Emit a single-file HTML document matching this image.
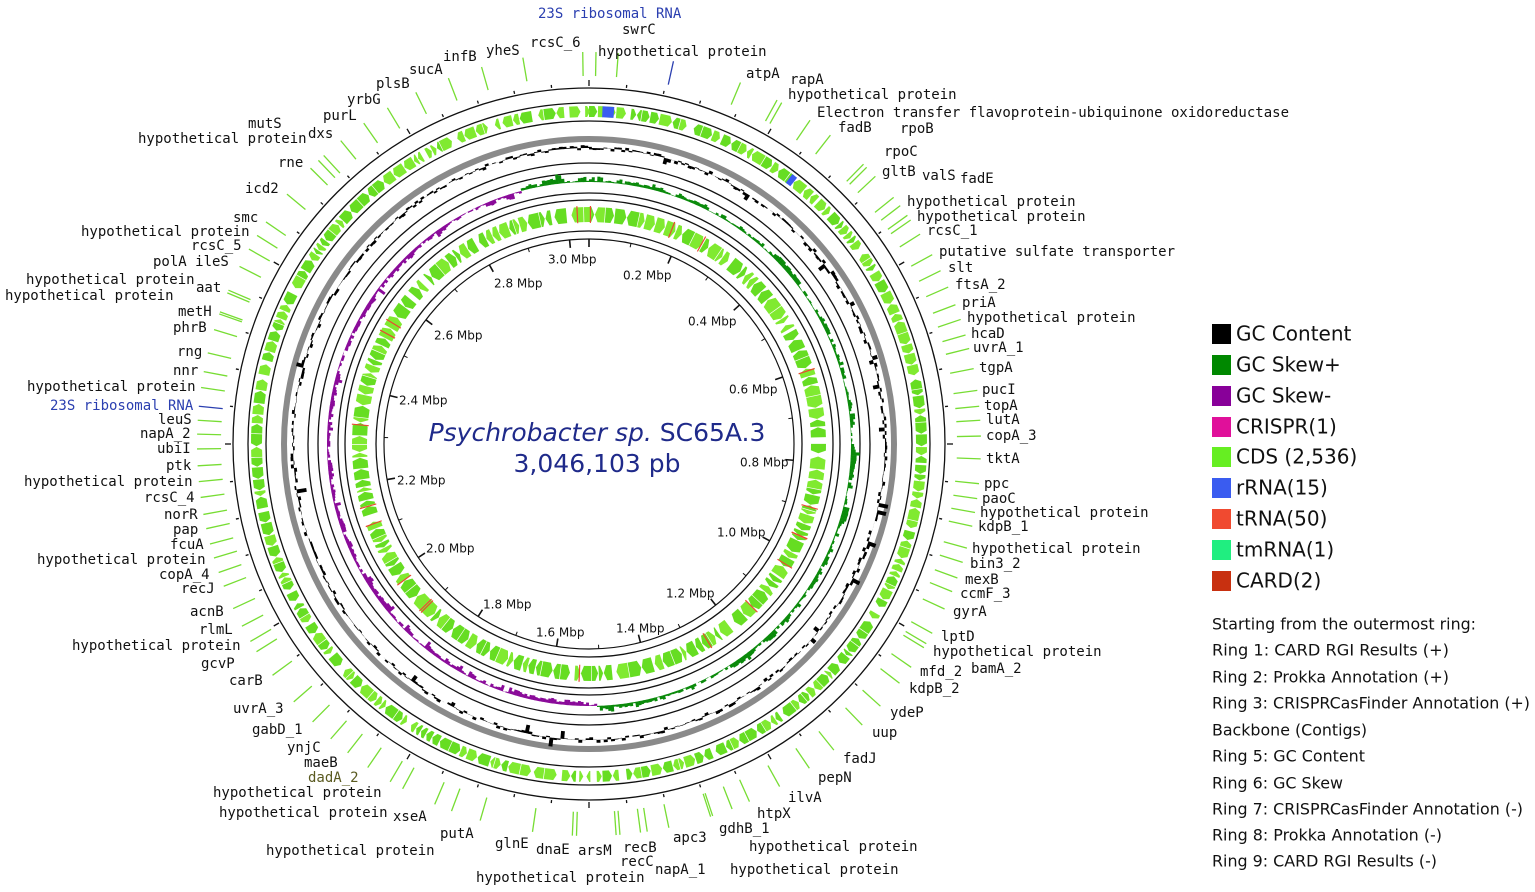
<!DOCTYPE html>
<html><head><meta charset="utf-8"><style>
html,body{margin:0;padding:0;background:#fff;}
svg{display:block}
.l{font-family:"DejaVu Sans Mono","Liberation Mono",monospace;font-size:14px;fill:#111}
.s{font-family:"DejaVu Sans","Liberation Sans",sans-serif;font-size:12px;fill:#111}
.g{font-family:"DejaVu Sans","Liberation Sans",sans-serif;font-size:20px;fill:#111}
.r{font-family:"DejaVu Sans","Liberation Sans",sans-serif;font-size:16px;fill:#111}
</style></head><body>
<svg id="sv" width="1535" height="892" viewBox="0 0 1535 892" xmlns="http://www.w3.org/2000/svg">
<g id="rings"></g>
<g id="leaders" stroke="#77dd33" stroke-width="1.3"></g>
<g id="labels" dominant-baseline="middle">
<text class="l" x="538" y="14" style="fill:#2b3fb0">23S ribosomal RNA</text>
<text class="l" x="622" y="30">swrC</text>
<text class="l" x="530" y="43">rcsC_6</text>
<text class="l" x="486" y="51">yheS</text>
<text class="l" x="443" y="57">infB</text>
<text class="l" x="409" y="70">sucA</text>
<text class="l" x="376" y="84">plsB</text>
<text class="l" x="598" y="52">hypothetical protein</text>
<text class="l" x="746" y="74">atpA</text>
<text class="l" x="790" y="80">rapA</text>
<text class="l" x="788" y="95">hypothetical protein</text>
<text class="l" x="817" y="113">Electron transfer flavoprotein-ubiquinone oxidoreductase</text>
<text class="l" x="838" y="128">fadB</text>
<text class="l" x="900" y="129">rpoB</text>
<text class="l" x="884" y="152">rpoC</text>
<text class="l" x="882" y="172">gltB</text>
<text class="l" x="922" y="176">valS</text>
<text class="l" x="960" y="179">fadE</text>
<text class="l" x="907" y="202">hypothetical protein</text>
<text class="l" x="917" y="217">hypothetical protein</text>
<text class="l" x="927" y="231">rcsC_1</text>
<text class="l" x="939" y="252">putative sulfate transporter</text>
<text class="l" x="948" y="268">slt</text>
<text class="l" x="955" y="285">ftsA_2</text>
<text class="l" x="962" y="303">priA</text>
<text class="l" x="967" y="318">hypothetical protein</text>
<text class="l" x="971" y="334">hcaD</text>
<text class="l" x="973" y="348">uvrA_1</text>
<text class="l" x="979" y="368">tgpA</text>
<text class="l" x="982" y="390">pucI</text>
<text class="l" x="984" y="406">topA</text>
<text class="l" x="986" y="420">lutA</text>
<text class="l" x="986" y="436">copA_3</text>
<text class="l" x="986" y="459">tktA</text>
<text class="l" x="984" y="484">ppc</text>
<text class="l" x="982" y="499">paoC</text>
<text class="l" x="980" y="513">hypothetical protein</text>
<text class="l" x="978" y="527">kdpB_1</text>
<text class="l" x="972" y="549">hypothetical protein</text>
<text class="l" x="970" y="564">bin3_2</text>
<text class="l" x="965" y="580">mexB</text>
<text class="l" x="960" y="594">ccmF_3</text>
<text class="l" x="953" y="612">gyrA</text>
<text class="l" x="941" y="637">lptD</text>
<text class="l" x="933" y="652">hypothetical protein</text>
<text class="l" x="920" y="672">mfd_2</text>
<text class="l" x="971" y="669">bamA_2</text>
<text class="l" x="909" y="689">kdpB_2</text>
<text class="l" x="890" y="713">ydeP</text>
<text class="l" x="872" y="733">uup</text>
<text class="l" x="843" y="759">fadJ</text>
<text class="l" x="818" y="778">pepN</text>
<text class="l" x="788" y="798">ilvA</text>
<text class="l" x="757" y="814">htpX</text>
<text class="l" x="719" y="829">gdhB_1</text>
<text class="l" x="749" y="847">hypothetical protein</text>
<text class="l" x="730" y="870">hypothetical protein</text>
<text class="l" x="673" y="838">apc3</text>
<text class="l" x="655" y="870">napA_1</text>
<text class="l" x="623" y="848">recB</text>
<text class="l" x="620" y="862">recC</text>
<text class="l" x="578" y="851">arsM</text>
<text class="l" x="536" y="850">dnaE</text>
<text class="l" x="495" y="844">glnE</text>
<text class="l" x="476" y="878">hypothetical protein</text>
<text class="l" x="266" y="851">hypothetical protein</text>
<text class="l" x="440" y="834">putA</text>
<text class="l" x="393" y="817">xseA</text>
<text class="l" x="219" y="813">hypothetical protein</text>
<text class="l" x="213" y="793">hypothetical protein</text>
<text class="l" x="308" y="778" style="fill:#5a5a20">dadA_2</text>
<text class="l" x="304" y="763">maeB</text>
<text class="l" x="287" y="748">ynjC</text>
<text class="l" x="252" y="730">gabD_1</text>
<text class="l" x="233" y="709">uvrA_3</text>
<text class="l" x="229" y="681">carB</text>
<text class="l" x="201" y="664">gcvP</text>
<text class="l" x="72" y="646">hypothetical protein</text>
<text class="l" x="199" y="630">rlmL</text>
<text class="l" x="190" y="612">acnB</text>
<text class="l" x="181" y="589">recJ</text>
<text class="l" x="159" y="575">copA_4</text>
<text class="l" x="37" y="560">hypothetical protein</text>
<text class="l" x="170" y="545">fcuA</text>
<text class="l" x="173" y="530">pap</text>
<text class="l" x="164" y="515">norR</text>
<text class="l" x="144" y="498">rcsC_4</text>
<text class="l" x="24" y="482">hypothetical protein</text>
<text class="l" x="166" y="466">ptk</text>
<text class="l" x="157" y="449">ubiI</text>
<text class="l" x="140" y="434">napA_2</text>
<text class="l" x="158" y="420">leuS</text>
<text class="l" x="50" y="406" style="fill:#2b3fb0">23S ribosomal RNA</text>
<text class="l" x="27" y="387">hypothetical protein</text>
<text class="l" x="173" y="371">nnr</text>
<text class="l" x="177" y="352">rng</text>
<text class="l" x="173" y="328">phrB</text>
<text class="l" x="178" y="312">metH</text>
<text class="l" x="196" y="288">aat</text>
<text class="l" x="5" y="296">hypothetical protein</text>
<text class="l" x="26" y="280">hypothetical protein</text>
<text class="l" x="153" y="262">polA ileS</text>
<text class="l" x="191" y="246">rcsC_5</text>
<text class="l" x="81" y="232">hypothetical protein</text>
<text class="l" x="233" y="218">smc</text>
<text class="l" x="245" y="189">icd2</text>
<text class="l" x="278" y="163">rne</text>
<text class="l" x="138" y="139">hypothetical protein</text>
<text class="l" x="248" y="124">mutS</text>
<text class="l" x="308" y="134">dxs</text>
<text class="l" x="323" y="116">purL</text>
<text class="l" x="347" y="100">yrbG</text>
</g>
<g dominant-baseline="middle">
<text class="s" x="548" y="260">3.0 Mbp</text>
<text class="s" x="623" y="276">0.2 Mbp</text>
<text class="s" x="688" y="322">0.4 Mbp</text>
<text class="s" x="729" y="390">0.6 Mbp</text>
<text class="s" x="740" y="463">0.8 Mbp</text>
<text class="s" x="717" y="533">1.0 Mbp</text>
<text class="s" x="666" y="594">1.2 Mbp</text>
<text class="s" x="616" y="629">1.4 Mbp</text>
<text class="s" x="536" y="633">1.6 Mbp</text>
<text class="s" x="483" y="605">1.8 Mbp</text>
<text class="s" x="426" y="549">2.0 Mbp</text>
<text class="s" x="397" y="481">2.2 Mbp</text>
<text class="s" x="399" y="401">2.4 Mbp</text>
<text class="s" x="434" y="336">2.6 Mbp</text>
<text class="s" x="494" y="284">2.8 Mbp</text>
</g>
<text x="597" y="441" text-anchor="middle" style="font-family:'DejaVu Sans','Liberation Sans',sans-serif;font-size:25px;fill:#1f2a8a"><tspan font-style="italic">Psychrobacter sp.</tspan> SC65A.3</text>
<text x="597" y="472" text-anchor="middle" style="font-family:'DejaVu Sans','Liberation Sans',sans-serif;font-size:25px;fill:#1f2a8a">3,046,103 pb</text>
<g dominant-baseline="middle">
<rect x="1212" y="324" width="19" height="20" fill="#000"/><text class="g" x="1236" y="335">GC Content</text>
<rect x="1212" y="355" width="19" height="20" fill="#008800"/><text class="g" x="1236" y="366">GC Skew+</text>
<rect x="1212" y="386" width="19" height="20" fill="#880099"/><text class="g" x="1236" y="397">GC Skew-</text>
<rect x="1212" y="417" width="19" height="20" fill="#e0109a"/><text class="g" x="1236" y="428">CRISPR(1)</text>
<rect x="1212" y="447" width="19" height="20" fill="#66ee22"/><text class="g" x="1236" y="458">CDS (2,536)</text>
<rect x="1212" y="478" width="19" height="20" fill="#3a5cf0"/><text class="g" x="1236" y="489">rRNA(15)</text>
<rect x="1212" y="509" width="19" height="20" fill="#f04a30"/><text class="g" x="1236" y="520">tRNA(50)</text>
<rect x="1212" y="540" width="19" height="20" fill="#20ee80"/><text class="g" x="1236" y="551">tmRNA(1)</text>
<rect x="1212" y="571" width="19" height="20" fill="#c83010"/><text class="g" x="1236" y="582">CARD(2)</text>
<text class="r" x="1212" y="625" textLength="264" lengthAdjust="spacingAndGlyphs">Starting from the outermost ring:</text>
<text class="r" x="1212" y="651" textLength="237" lengthAdjust="spacingAndGlyphs">Ring 1: CARD RGI Results (+)</text>
<text class="r" x="1212" y="678" textLength="237" lengthAdjust="spacingAndGlyphs">Ring 2: Prokka Annotation (+)</text>
<text class="r" x="1212" y="704" textLength="318" lengthAdjust="spacingAndGlyphs">Ring 3: CRISPRCasFinder Annotation (+)</text>
<text class="r" x="1212" y="731" textLength="155" lengthAdjust="spacingAndGlyphs">Backbone (Contigs)</text>
<text class="r" x="1212" y="757" textLength="153" lengthAdjust="spacingAndGlyphs">Ring 5: GC Content</text>
<text class="r" x="1212" y="784" textLength="131" lengthAdjust="spacingAndGlyphs">Ring 6: GC Skew</text>
<text class="r" x="1212" y="810" textLength="311" lengthAdjust="spacingAndGlyphs">Ring 7: CRISPRCasFinder Annotation (-)</text>
<text class="r" x="1212" y="836" textLength="230" lengthAdjust="spacingAndGlyphs">Ring 8: Prokka Annotation (-)</text>
<text class="r" x="1212" y="862" textLength="225" lengthAdjust="spacingAndGlyphs">Ring 9: CARD RGI Results (-)</text>
</g>
</svg>
<script>
(function(){
var NS="http://www.w3.org/2000/svg",cx=589,cy=444;
var R=document.getElementById('rings'),L=document.getElementById('leaders');
function el(t,a,p){var e=document.createElementNS(NS,t);for(var k in a)e.setAttribute(k,a[k]);(p||R).appendChild(e);return e;}
function pt(r,a){var t=(a-90)*Math.PI/180;return [cx+r*Math.cos(t),cy+r*Math.sin(t)];}
function P(a){return a.map(function(p){return p[0].toFixed(1)+','+p[1].toFixed(1)}).join(' ');}
var s=7;function rnd(){s=(s*9301+49297)%233280;return s/233280;}
el('circle',{cx:cx,cy:cy,r:305,fill:'none',stroke:'#8a8a8a','stroke-width':6});
function cds(r1,r2){var a=0;var k=57.3/r1;while(a<360){var w=(4+rnd()*9)*k;var g=rnd()<0.12?(2+rnd()*6)*k:0.7*k;
 var fw=rnd()<0.5;var tip=3*k;var rm=(r1+r2)/2;var pts;
 if(fw)pts=[pt(r1,a),pt(r1,a+w-tip),pt(rm,a+w),pt(r2,a+w-tip),pt(r2,a)];
 else pts=[pt(r1,a+tip),pt(r1,a+w),pt(r2,a+w),pt(r2,a+tip),pt(rm,a)];
 el('polygon',{points:P(pts),fill:rnd()<0.5?'#66dd22':'#80ea30'});a+=w+g;}}
cds(338,327);cds(237,222);
for(var i=0;i<20;i++){var a=rnd()*360;el('polygon',{points:P([pt(238,a),pt(238,a+0.3),pt(221,a+0.3),pt(221,a)]),fill:'#e84a30'});}
el('polygon',{points:P([pt(338,2.3),pt(338,4.3),pt(327,4.3),pt(327,2.3)]),fill:'#3a5cf0'});
el('polygon',{points:P([pt(338,37),pt(338,38),pt(327,38),pt(327,37)]),fill:'#3a5cf0'});
[356,341,323,281,271,251,244,213].forEach(function(r){el('circle',{cx:cx,cy:cy,r:r,fill:'none',stroke:'#111','stroke-width':1.3});});
el('circle',{cx:cx,cy:cy,r:205,fill:'none',stroke:'#111','stroke-width':1.2});
var base=296;for(var a=0;a<360;a+=0.7){var v=(rnd()-0.5)*6;if(rnd()<0.06)v=(rnd()-0.5)*20;
 el('polygon',{points:P([pt(base,a),pt(base+v,a),pt(base+v,a+0.75),pt(base,a+0.75)]),fill:'#000'});}
var sb=262,prev=2;for(var a=0;a<360;a+=0.6){var pos=(a<178||a>345);var v=prev*0.5+rnd()*3.5;if(rnd()<0.08)v+=rnd()*5;if(rnd()<0.15)v*=0.2;prev=v;
 var h=pos?Math.min(v,12):-Math.min(v,11);
 el('polygon',{points:P([pt(sb,a),pt(sb+h,a),pt(sb+h,a+0.65),pt(sb,a+0.65)]),fill:pos?'#0a8a0a':'#8a0a99'});}
for(var i=0;i<60;i++){var a=i*6,p1=pt(358,a),p2=pt(i%5?361:364,a);el('line',{x1:p1[0],y1:p1[1],x2:p2[0],y2:p2[1],stroke:'#111','stroke-width':1.3});}
for(var i=0;i<152;i++){var m=i*0.02/3.046*360;var big=i%10==0;var p1=pt(205,m),p2=pt(big?197:201,m);if(i%5==0||big)el('line',{x1:p1[0],y1:p1[1],x2:p2[0],y2:p2[1],stroke:'#111','stroke-width':big?1.6:1});}
var ts=document.querySelectorAll('#labels text');
ts.forEach(function(t){var b=t.getBBox();var x=b.x,y=b.y+b.height/2;
 var right=x>cx-30;var ax=right?x-2:x+b.width+2;
 var a=Math.atan2(ax-cx,-(y-cy))*180/Math.PI;var p1=pt(368,a),p2=pt(392,a);
 var ln=el('line',{x1:p1[0],y1:p1[1],x2:p2[0],y2:p2[1]},L);
 if(t.textContent.indexOf('23S')==0)ln.setAttribute('stroke','#2b3fb0');});
})();
</script>
</body></html>
